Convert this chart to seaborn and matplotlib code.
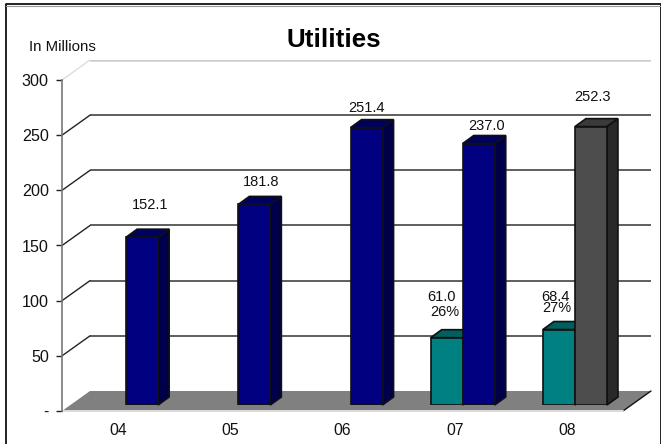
import matplotlib
matplotlib.use("Agg")
import matplotlib.pyplot as plt
from matplotlib.colors import to_hex
from matplotlib.lines import Line2D
from matplotlib.patches import Polygon
import numpy as np
import pandas as pd
import seaborn as sns

years = ["04", "05", "06", "07", "08"]
part_values = [np.nan, np.nan, np.nan, 61.0, 68.4]
total_values = [152.1, 181.8, 251.4, 237.0, 252.3]
total_labels = ["152.1", "181.8", "251.4", "237.0", "252.3"]
part_labels = ["61.0", "68.4"]
part_shares = ["26%", "27%"]
y_ticks = [0, 50, 100, 150, 200, 250, 300]
y_tick_labels = ["-", "50", "100", "150", "200", "250", "300"]

W, H = 661, 444
sns.set_theme(style="white")
plt.rcParams["font.family"] = ["Liberation Sans", "DejaVu Sans"]


def plane(fig, x0, y_bottom, zorder):
    # axes rectangle given in pixels, y measured from the top of the image
    ax = fig.add_axes([x0 / W, 1 - y_bottom / H, 561 / W, 331 / H], zorder=zorder)
    ax.set_xlim(-0.5, 4.5)
    ax.set_ylim(0, 300)
    ax.patch.set_alpha(0)
    return ax


fig = plt.figure(figsize=(W / 100, H / 100), dpi=100)

# frame is open at the bottom
fig.add_artist(Line2D([5.5 / W, 5.5 / W, 660.5 / W, 660.5 / W], [0, 1 - 4.5 / H, 1 - 4.5 / H, 0], color="#111111", lw=1.3))
fig.add_artist(Line2D([6 / W, 660 / W], [1 - 5.8 / H, 1 - 5.8 / H], color="#999999", lw=0.8))

# back wall, floor and front plane are the same scale shifted in depth
wall = plane(fig, 90, 391, 1)
front = plane(fig, 62, 411, 2)
bars = plane(fig, 70, 405, 3)

wall.set_yticks(y_ticks[1:])
wall.set_xticks([])
wall.grid(axis="y", color="#333333", lw=1.1)
wall.get_ygridlines()[-1].set(color="#cccccc", lw=1.8)
wall.tick_params(left=False, labelleft=False)
sns.despine(ax=wall, left=True, bottom=True)

sns.despine(ax=front, right=True, top=True, bottom=True)
front.spines["left"].set(color="#777777", lw=1.2)
front.set_xticks(range(len(years)), years)
front.set_yticks(y_ticks, y_tick_labels)
front.tick_params(axis="x", length=0, pad=8.8, labelsize=11.3, colors="#111111")
front.tick_params(axis="y", left=True, length=4, width=1, color="#222222", pad=5.5, labelsize=11.6, labelcolor="#111111")

# floor and the diagonals joining front plane to back wall
to_fig = fig.transFigure.inverted()

for v in y_ticks:
    start = to_fig.transform(front.transData.transform((-0.5, v)))
    end = to_fig.transform(wall.transData.transform((-0.5, v)))
    col = "#dddddd" if v == 300 else "#222222"
    if v > 0:
        fig.add_artist(Line2D([start[0], end[0]], [start[1], end[1]], color=col, lw=1, zorder=1.5))

corners = [front.transData.transform((-0.5, 0)), wall.transData.transform((-0.5, 0)),
           wall.transData.transform((4.5, 0)), front.transData.transform((4.5, 0))]
floor = Polygon(to_fig.transform(corners), closed=True, transform=fig.transFigure, color="#808080", lw=0, zorder=1.6)
fig.add_artist(floor)
fig.add_artist(Line2D(*zip(to_fig.transform(corners[3]), to_fig.transform(corners[2])), color="#111111", lw=1, zorder=1.7))
fig.add_artist(Line2D(*zip(to_fig.transform(corners[0]), to_fig.transform(corners[3])), color="#dddddd", lw=1.4, zorder=1.7))

df = pd.DataFrame({
    "year": years * 2,
    "value": part_values + total_values,
    "series": ["part"] * 5 + ["total"] * 5,
})
sns.barplot(data=df, x="year", y="value", hue="series", order=years, hue_order=["part", "total"],
            palette={"part": "#008080", "total": "#000080"}, width=0.571, gap=0, legend=False,
            saturation=1, edgecolor="#101010", linewidth=1.2, ax=bars)
bars.set_xlim(-0.5, 4.5)
bars.set_ylim(0, 300)
bars.set_xlabel("")
bars.set_ylabel("")
bars.axis("off")

# the 2008 total is the grey one
bars.containers[1][4].set_facecolor("#4d4d4d")

depth_x = 11 / 112
depth_y = 8 / 1.103
shade = {"#008080": ("#005f5f", "#004c4c"), "#000080": ("#000060", "#00004a"), "#4d4d4d": ("#3a3a3a", "#292929")}

for container in bars.containers:
    for bar in container:
        h = bar.get_height()
        if not h or np.isnan(h):
            continue
        x0, w = bar.get_x(), bar.get_width()
        x1 = x0 + w
        top_col, side_col = shade[to_hex(bar.get_facecolor())]
        top = [(x0, h), (x1, h), (x1 + depth_x, h + depth_y), (x0 + depth_x, h + depth_y)]
        side = [(x1, 0), (x1 + depth_x, depth_y), (x1 + depth_x, h + depth_y), (x1, h)]
        bars.add_patch(Polygon(top, closed=True, fc=top_col, ec="#101010", lw=1.2, clip_on=False, zorder=bar.get_zorder() - 0.1))
        bars.add_patch(Polygon(side, closed=True, fc=side_col, ec="#101010", lw=1.2, clip_on=False, zorder=bar.get_zorder() - 0.1))


def label(bar, txt, dx, dy):
    # offsets in pixels from the top centre of the bar front
    bars.annotate(txt, (bar.get_x() + bar.get_width() / 2, bar.get_height()), xytext=(dx, dy),
                  textcoords="offset pixels", ha="center", va="center", fontsize=10.5,
                  color="#111111", annotation_clip=False, zorder=6)


total_offsets = [(8, 32), (7, 22), (0, 20), (8, 18), (1.5, 30)]
for bar, txt, (dx, dy) in zip(bars.containers[1], total_labels, total_offsets):
    label(bar, txt, dx, dy)

# seaborn leaves the nan years out, so the part container only holds 07 and 08
part_bars = [b for b in bars.containers[0] if b.get_height() > 0]
part_offsets = [(-5, 41), (-3, 33)]
share_offsets = [(-2, 26), (-2, 22)]
for i, bar in enumerate(part_bars):
    label(bar, part_labels[i], *part_offsets[i])
    label(bar, part_shares[i], *share_offsets[i])

fig.text(29 / W, 1 - 47 / H, "In Millions", fontsize=10.8, color="#111111", va="center")
fig.text(333.5 / W, 1 - 40 / H, "Utilities", fontsize=18.7, fontweight="bold", color="#000000", ha="center", va="center")

fig.savefig("out.png", dpi=100)
